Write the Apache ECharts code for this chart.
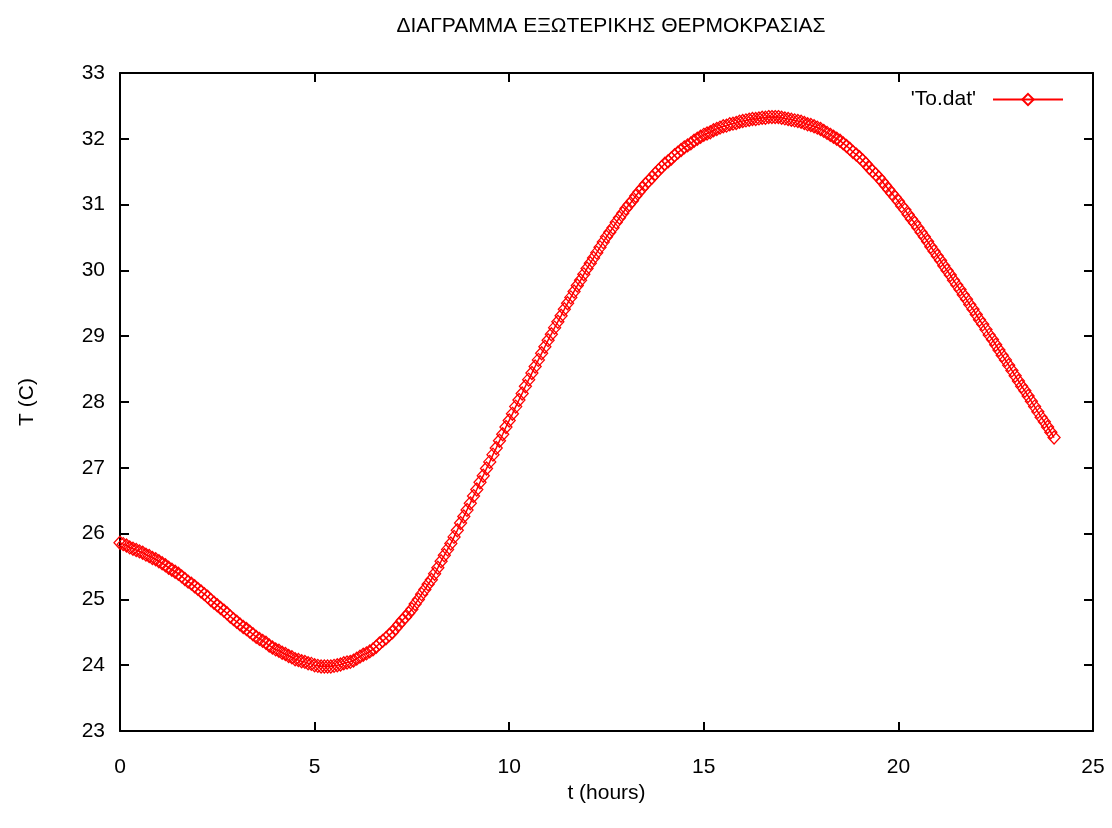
<!DOCTYPE html>
<html>
<head>
<meta charset="utf-8">
<title>ΔΙΑΓΡΑΜΜΑ ΕΞΩΤΕΡΙΚΗΣ ΘΕΡΜΟΚΡΑΣΙΑΣ</title>
<script src="https://cdn.jsdelivr.net/npm/echarts@6/dist/echarts.min.js"></script>
<style>
  html, body { margin: 0; padding: 0; background: #ffffff; }
  #chart { width: 1112px; height: 828px; }
</style>
</head>
<body>
<div id="chart"></div>
<script>
// Sample times in minutes from midnight (5-minute records), one row per hour
const minutes = [
  0, 5, 10, 15, 20, 25, 30, 35, 40, 45, 50, 55,
  60, 65, 70, 75, 80, 85, 90, 95, 100, 105, 110, 115,
  120, 125, 130, 135, 140, 145, 150, 155, 160, 165, 170, 175,
  180, 185, 190, 195, 200, 205, 210, 215, 220, 225, 230, 235,
  240, 245, 250, 255, 260, 265, 270, 275, 280, 285, 290, 295,
  300, 305, 310, 315, 320, 325, 330, 335, 340, 345, 350, 355,
  360, 365, 370, 375, 380, 385, 390, 395, 400, 405, 410, 415,
  420, 425, 430, 435, 440, 445, 450, 455, 460, 465, 470, 475,
  480, 485, 490, 495, 500, 505, 510, 515, 520, 525, 530, 535,
  540, 545, 550, 555, 560, 565, 570, 575, 580, 585, 590, 595,
  600, 605, 610, 615, 620, 625, 630, 635, 640, 645, 650, 655,
  660, 665, 670, 675, 680, 685, 690, 695, 700, 705, 710, 715,
  720, 725, 730, 735, 740, 745, 750, 755, 760, 765, 770, 775,
  780, 785, 790, 795, 800, 805, 810, 815, 820, 825, 830, 835,
  840, 845, 850, 855, 860, 865, 870, 875, 880, 885, 890, 895,
  900, 905, 910, 915, 920, 925, 930, 935, 940, 945, 950, 955,
  960, 965, 970, 975, 980, 985, 990, 995, 1000, 1005, 1010, 1015,
  1020, 1025, 1030, 1035, 1040, 1045, 1050, 1055, 1060, 1065, 1070, 1075,
  1080, 1085, 1090, 1095, 1100, 1105, 1110, 1115, 1120, 1125, 1130, 1135,
  1140, 1145, 1150, 1155, 1160, 1165, 1170, 1175, 1180, 1185, 1190, 1195,
  1200, 1205, 1210, 1215, 1220, 1225, 1230, 1235, 1240, 1245, 1250, 1255,
  1260, 1265, 1270, 1275, 1280, 1285, 1290, 1295, 1300, 1305, 1310, 1315,
  1320, 1325, 1330, 1335, 1340, 1345, 1350, 1355, 1360, 1365, 1370, 1375,
  1380, 1385, 1390, 1395, 1400, 1405, 1410, 1415, 1420, 1425, 1430, 1435,
  1440
];

// Outdoor temperature (°C) at each sample time
const temps = [
  25.86, 25.84, 25.82, 25.79, 25.77, 25.75, 25.73, 25.71, 25.68, 25.66, 25.63, 25.61,
  25.58, 25.55, 25.52, 25.48, 25.45, 25.42, 25.39, 25.35, 25.31, 25.27, 25.24, 25.20,
  25.16, 25.12, 25.08, 25.04, 24.99, 24.95, 24.91, 24.87, 24.83, 24.79, 24.74, 24.70,
  24.66, 24.62, 24.58, 24.55, 24.51, 24.47, 24.43, 24.40, 24.37, 24.34, 24.30, 24.27,
  24.24, 24.22, 24.19, 24.17, 24.14, 24.12, 24.09, 24.08, 24.06, 24.05, 24.03, 24.02,
  24.00, 23.99, 23.98, 23.98, 23.98, 23.98, 23.99, 24.00, 24.01, 24.03, 24.04, 24.05,
  24.07, 24.10, 24.13, 24.16, 24.18, 24.21, 24.24, 24.28, 24.33, 24.37, 24.41, 24.46,
  24.50, 24.56, 24.62, 24.68, 24.73, 24.79, 24.85, 24.93, 25.00, 25.08, 25.15, 25.23,
  25.30, 25.39, 25.48, 25.58, 25.67, 25.76, 25.85, 25.95, 26.05, 26.16, 26.26, 26.36,
  26.46, 26.57, 26.67, 26.78, 26.88, 26.99, 27.09, 27.20, 27.30, 27.41, 27.51, 27.62,
  27.72, 27.82, 27.93, 28.03, 28.13, 28.24, 28.34, 28.44, 28.54, 28.64, 28.74, 28.84,
  28.94, 29.03, 29.13, 29.22, 29.31, 29.41, 29.50, 29.59, 29.68, 29.77, 29.85, 29.94,
  30.03, 30.11, 30.19, 30.27, 30.35, 30.43, 30.51, 30.58, 30.65, 30.73, 30.80, 30.87,
  30.94, 31.00, 31.06, 31.13, 31.19, 31.25, 31.31, 31.36, 31.41, 31.47, 31.52, 31.57,
  31.62, 31.66, 31.70, 31.75, 31.79, 31.83, 31.87, 31.90, 31.93, 31.97, 32.00, 32.03,
  32.06, 32.08, 32.10, 32.13, 32.15, 32.17, 32.19, 32.20, 32.22, 32.23, 32.24, 32.26,
  32.27, 32.28, 32.29, 32.30, 32.30, 32.31, 32.32, 32.32, 32.33, 32.33, 32.33, 32.33,
  32.32, 32.31, 32.30, 32.29, 32.28, 32.27, 32.26, 32.24, 32.22, 32.21, 32.19, 32.17,
  32.15, 32.12, 32.09, 32.06, 32.03, 32.00, 31.97, 31.93, 31.89, 31.85, 31.80, 31.76,
  31.72, 31.67, 31.62, 31.56, 31.51, 31.46, 31.41, 31.35, 31.29, 31.23, 31.17, 31.11,
  31.05, 30.98, 30.92, 30.85, 30.78, 30.72, 30.65, 30.58, 30.51, 30.44, 30.36, 30.29,
  30.22, 30.15, 30.07, 30.00, 29.93, 29.85, 29.78, 29.71, 29.63, 29.56, 29.48, 29.41,
  29.33, 29.25, 29.18, 29.10, 29.02, 28.95, 28.87, 28.79, 28.71, 28.64, 28.56, 28.48,
  28.40, 28.32, 28.24, 28.17, 28.09, 28.01, 27.93, 27.85, 27.77, 27.70, 27.62, 27.54,
  27.46
];

// Axis ranges and tick steps
const xRange = [0, 25];
const xTickStep = 5;
const yRange = [23, 33];
const yTickStep = 1;

const chartTitle = 'ΔΙΑΓΡΑΜΜΑ ΕΞΩΤΕΡΙΚΗΣ ΘΕΡΜΟΚΡΑΣΙΑΣ';
const xName = 't (hours)';
const yName = 'T (C)';
const seriesName = "'To.dat'";

const FONT = '"Liberation Sans", Arial, sans-serif';
const FONT_SIZE = 21;
const INK = '#000000';
const RED = '#ff0000';

// Plot x in hours
const points = minutes.map((m, i) => [m / 60, temps[i]]);

function frameAxis(extra) {
  return Object.assign({
    type: 'value',
    axisLine: { show: true, onZero: false, lineStyle: { color: INK, width: 2 } },
    axisTick: { show: true, inside: true, length: 9, lineStyle: { color: INK, width: 2 } },
    splitLine: { show: false },
    axisLabel: { show: false }
  }, extra);
}

const chart = echarts.init(document.getElementById('chart'), null, { renderer: 'canvas' });

chart.setOption({
  animation: false,
  backgroundColor: '#ffffff',
  textStyle: { fontFamily: FONT, color: INK },
  title: {
    text: chartTitle,
    left: 606,
    textAlign: 'center',
    top: 11,
    textStyle: { fontFamily: FONT, fontSize: 21, fontWeight: 'normal', color: INK }
  },
  legend: {
    data: [seriesName],
    right: 43,
    top: 84,
    align: 'right',
    itemWidth: 70,
    itemHeight: 14,
    selectedMode: false,
    textStyle: { fontFamily: FONT, fontSize: FONT_SIZE, color: INK, padding: [0, 12, 0, 0] }
  },
  grid: { left: 120, right: 19, top: 73, bottom: 97 },
  xAxis: [
    frameAxis({
      position: 'bottom',
      min: xRange[0], max: xRange[1], interval: xTickStep,
      name: xName,
      nameLocation: 'middle',
      nameGap: 47,
      nameTextStyle: { fontFamily: FONT, fontSize: FONT_SIZE, color: INK },
      axisLabel: { show: true, margin: 26, fontFamily: FONT, fontSize: FONT_SIZE, color: INK }
    }),
    frameAxis({
      position: 'top',
      min: xRange[0], max: xRange[1], interval: xTickStep
    })
  ],
  yAxis: [
    frameAxis({
      position: 'left',
      min: yRange[0], max: yRange[1], interval: yTickStep,
      name: yName,
      nameLocation: 'middle',
      nameGap: 82,
      nameTextStyle: { fontFamily: FONT, fontSize: FONT_SIZE, color: INK },
      axisLabel: { show: true, margin: 15, fontFamily: FONT, fontSize: FONT_SIZE, color: INK }
    }),
    frameAxis({
      position: 'right',
      min: yRange[0], max: yRange[1], interval: yTickStep
    })
  ],
  series: [{
    name: seriesName,
    type: 'line',
    xAxisIndex: 0,
    yAxisIndex: 0,
    data: points,
    symbol: 'diamond',
    symbolSize: [12, 13],
    showAllSymbol: true,
    lineStyle: { color: RED, width: 1.5 },
    itemStyle: { color: 'rgba(255,255,255,0)', borderColor: RED, borderWidth: 1.3 },
    emphasis: { disabled: true },
    z: 3
  }]
});
</script>
</body>
</html>
